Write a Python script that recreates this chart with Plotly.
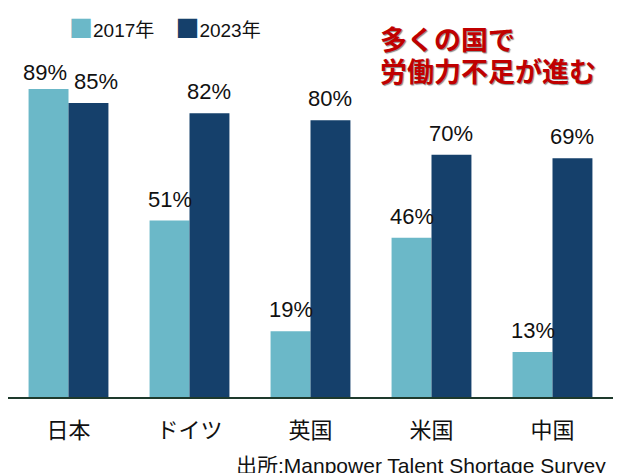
import plotly.graph_objects as go

categories = ["日本", "ドイツ", "英国", "米国", "中国"]
values_2017 = [89, 51, 19, 46, 13]
values_2023 = [85, 82, 80, 70, 69]
series_names = ["2017年", "2023年"]
color_2017 = "#6BB8C8"
color_2023 = "#15406B"

bargap = 0.34
bar_w = (1 - bargap) / 2
positions = list(range(len(categories)))

fig = go.Figure()
fig.add_trace(go.Bar(
    x=positions, y=values_2017, name=series_names[0],
    marker=dict(color=color_2017, line=dict(width=0)), showlegend=False,
))
fig.add_trace(go.Bar(
    x=positions, y=values_2023, name=series_names[1],
    marker=dict(color=color_2023, line=dict(width=0)), showlegend=False,
))

label_font = dict(size=22, color="#111111", family="Liberation Sans, Arial")
for i, (a, b) in enumerate(zip(values_2017, values_2023)):
    crowded = i == 0  # Japan: the two labels are nudged apart
    fig.add_annotation(x=i - bar_w / 2, y=a, text=f"{a}%", showarrow=False,
                       xanchor="center", yanchor="bottom", font=label_font,
                       xshift=-4 if crowded else 0, yshift=2 if crowded else 7)
    fig.add_annotation(x=i + bar_w / 2, y=b, text=f"{b}%", showarrow=False,
                       xanchor="center", yanchor="bottom", font=label_font,
                       xshift=8 if crowded else 0, yshift=7)

# page body has an 8px margin, so the figure is sized to fit the window
fig.update_layout(
    width=616, height=465,
    margin=dict(l=0, r=11, t=43, b=76),
    paper_bgcolor="white", plot_bgcolor="white",
    barmode="group", bargap=bargap, bargroupgap=0,
    font=dict(family="Liberation Sans, Arial, Noto Sans CJK JP", color="#111111"),
    showlegend=False,
    xaxis=dict(range=[-0.5, len(categories) - 0.5], tickvals=positions, ticktext=categories,
               showgrid=False, zeroline=False, showline=True, linecolor="#1E3A2C", linewidth=2,
               ticks="", tickfont=dict(size=22, family="Noto Sans CJK JP", color="#111111"),
               ticklabelstandoff=13),
    yaxis=dict(range=[0, 100], visible=False, showgrid=False),
)

sq = "<span style='font-size:24px;font-family:Noto Sans CJK JP;color:{c}'>■</span>"
legend_text = (
    sq.format(c=color_2017) + series_names[0]
    + "\u00a0\u00a0\u00a0\u00a0" + sq.format(c=color_2023) + series_names[1]
)
fig.add_annotation(
    text=legend_text, xref="paper", yref="paper",
    x=0.098, y=1.072, xanchor="left", yanchor="middle", showarrow=False,
    font=dict(size=19, color="#111111", family="Liberation Sans, Noto Sans CJK JP"),
)

title_font = dict(size=27, color="#C00000", family="Noto Sans CJK JP", weight="bold",
                  shadow="1px 1px 1px #888888")
fig.add_annotation(text="多くの国で", xref="paper", yref="paper", x=0.611, y=1.035,
                   xanchor="left", yanchor="middle", showarrow=False, font=title_font)
fig.add_annotation(text="労働力不足が進む", xref="paper", yref="paper", x=0.611, y=0.944,
                   xanchor="left", yanchor="middle", showarrow=False, font=title_font)

fig.add_annotation(
    text="出所:Manpower Talent Shortage Survey", xref="paper", yref="paper",
    x=0.992, y=-0.16, xanchor="right", yanchor="top", showarrow=False,
    font=dict(size=21, color="#111111", family="Liberation Sans, Noto Sans CJK JP"),
)

fig.write_html("out.html")
